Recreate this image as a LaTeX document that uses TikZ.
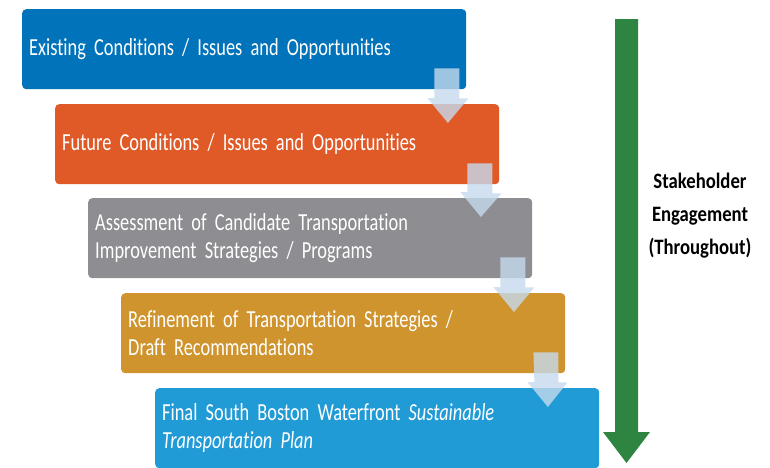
\documentclass[tikz,border=0pt]{standalone}
\usepackage{fontspec}
\setmainfont{Carlito}[FakeStretch=0.75,Ligatures=NoCommon]
\newfontfamily\engagefont{Carlito}[FakeStretch=0.85]
\usetikzlibrary{calc}
\definecolor{stageA}{RGB}{0,115,186}
\definecolor{stageB}{RGB}{224,90,40}
\definecolor{stageC}{RGB}{141,141,146}
\definecolor{stageD}{RGB}{207,148,45}
\definecolor{stageE}{RGB}{33,155,214}
\definecolor{flowblue}{RGB}{197,218,237}
\definecolor{engagegreen}{RGB}{45,133,65}
\newcommand\stagefont{\fontsize{24.5}{28}\selectfont\spaceskip=2.6pt plus 1pt\relax}
\newcommand\stepdown[2]{%
\fill[flow arrow] ($(#1.south east)+(-32,-21)$) -- ++(25,0) -- ++(0,30) -- ++(9,0)
  -- ($(#2.north east)+(-51.5,19)$) -- ++(-20.5,-25) -- ++(7,0) -- cycle;}
\begin{document}
\begin{tikzpicture}
[x=1pt,y=-1pt,
stage box/.style={anchor=north west,rounded corners=4pt,text width=430pt,inner xsep=7pt,
 inner ysep=0pt,minimum height=80pt,align=left,text=white,font=\stagefont},
flow arrow/.style={fill=flowblue,fill opacity=0.8}]
\useasboundingbox (0,0) rectangle (770,467);
\node[stage box,fill=stageA] (existing) at (22,9) {Existing Conditions / Issues and Opportunities};
\node[stage box,fill=stageB] (future) at (55,104) {Future Conditions / Issues and Opportunities};
\node[stage box,fill=stageC] (assess) at (88,198) {Assessment of Candidate Transportation\\Improvement Strategies / Programs};
\node[stage box,fill=stageD] (refine) at (121,293) {Refinement of Transportation Strategies /\\Draft Recommendations};
\node[stage box,fill=stageE] (final) at (155,388) {Final South Boston Waterfront \textit{Sustainable}\\\textit{Transportation Plan}};
\stepdown{existing}{future}
\stepdown{future}{assess}
\stepdown{assess}{refine}
\stepdown{refine}{final}
\coordinate (engage top) at (626.5,19);
\coordinate (engage tip) at (626.5,463);
\fill[engagegreen] ($(engage top)+(-11.5,0)$) -- ++(23,0) -- ($(engage tip)+(11.5,-31)$) -- ++(12,0)
  -- (engage tip) -- ++(-23.5,-31) -- ++(12,0) -- cycle;
\node[align=center,font=\engagefont\bfseries\fontsize{22}{33}\selectfont] (engage) at (700,216)
 {Stakeholder\\Engagement\\(Throughout)};
\end{tikzpicture}
\end{document}
